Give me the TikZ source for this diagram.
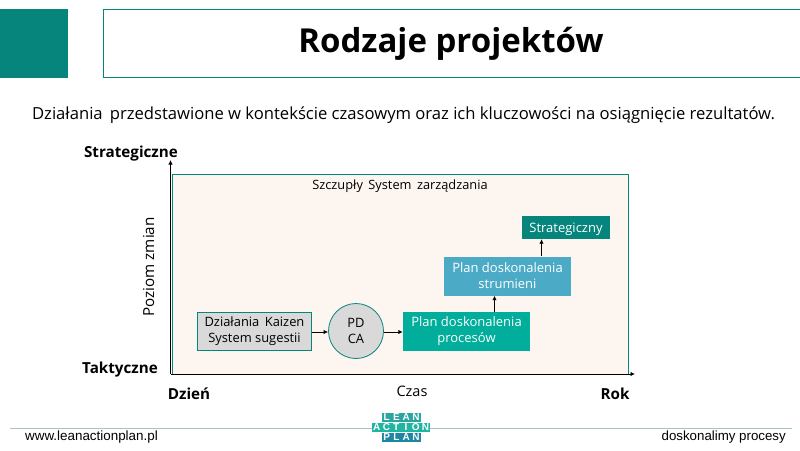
\documentclass[tikz,border=0pt]{standalone}
\usepackage{fontspec}
\setmainfont{Open Sans}
\newfontfamily\footfont{Liberation Sans}
\usetikzlibrary{positioning}
\usetikzlibrary{arrows.meta}
\definecolor{tealdark}{HTML}{06857D}
\definecolor{tealmid}{HTML}{00AE9B}
\definecolor{bluemid}{HTML}{4BABC6}
\definecolor{chartbg}{HTML}{FDF5EF}
\definecolor{boxgray}{HTML}{D9D9D9}
\definecolor{footline}{HTML}{A8C4C0}
\definecolor{logotop}{HTML}{2AA5A0}
\definecolor{logomid}{HTML}{1FB5A0}
\definecolor{logolow}{HTML}{1D86A0}
\tikzset{
	stagebox/.style={inner sep=0, align=center, font=\fontsize{13}{16}\selectfont, text=white, execute at begin node=\rule{0pt}{14pt}},
	grayshape/.style={fill=boxgray, draw=tealdark, thick, align=center, inner sep=0, font=\fontsize{12.9}{16}\selectfont, execute at begin node=\rule{0pt}{14pt}},
	axislabel/.style={font=\fontsize{15.2}{18}\selectfont\bfseries, inner sep=0},
	plainlabel/.style={font=\fontsize{12.8}{16}\selectfont, inner sep=0},
	logotile/.style={minimum width=9.75, minimum height=9, inner sep=0, text=white, font=\footfont\fontsize{10}{10}\selectfont\bfseries},
	flow/.style={-{Latex[length=4.5,width=4.5]}, line width=0.9}
}
\begin{document}
\begin{tikzpicture}[x=1pt, y=-1pt]
	\useasboundingbox (0,0) rectangle (800,450);
	% header
	\fill[tealdark] (0,9) rectangle (68,78);
	\node[draw=tealdark, thick, minimum width=720, minimum height=68, anchor=north west, inner sep=0] (titlebox) at (102.5,9) {};
	\node[font=\fontsize{33}{38}\selectfont\bfseries, inner sep=0] (title) at (451,44) {Rodzaje projektów};
	\node[font=\fontsize{16.63}{20}\selectfont, inner sep=0, text=black] (intro) at (403.5,115.5) {Działania\, przedstawione w kontekście czasowym oraz ich kluczowości na osiągnięcie rezultatów.};
	% chart
	\node[fill=chartbg, draw=tealdark, thick, minimum width=456, minimum height=200, anchor=north west, inner sep=0] (chart) at (172,173.5) {};
	\node[plainlabel] (chartname) at (400,186) {Szczupły\, System\, zarządzania};
	\coordinate (origin) at (170.5,374);
	\coordinate (topend) at (170.5,160);
	\coordinate (rightend) at (635,374);
	\draw[flow] (origin) -- (topend);
	\draw[flow] (origin) -- (rightend);
	\node[axislabel] (strategic) at (131,154) {Strategiczne};
	\node[axislabel] (tactical) at (120,370) {Taktyczne};
	\node[axislabel] (day) at (189,394) {Dzień};
	\node[axislabel] (year) at (615,394) {Rok};
	\node[plainlabel, font=\fontsize{14.5}{16}\selectfont] (time) at (412,391.5) {Czas};
	\node[plainlabel, rotate=90, font=\fontsize{15.2}{18}\selectfont] (level) at (148.5,267) {Poziom zmian};
	% flow
	\node[grayshape, minimum width=114, minimum height=38] (kaizen) at (254.5,331.5) {Działania\, Kaizen\\System sugestii};
	\node[grayshape, circle, minimum size=55] (pdca) at (356,331) {PD\\CA};
	\node[stagebox, fill=tealmid, minimum width=127, minimum height=39] (process) at (466.5,331.5) {Plan doskonalenia\\procesów};
	\node[stagebox, fill=bluemid, minimum width=127, minimum height=39] (stream) at (507.5,276) {Plan doskonalenia\\strumieni};
	\node[stagebox, fill=tealdark, minimum width=88, minimum height=23] (strategy) at (566,227.5) {Strategiczny};
	\coordinate (flowline) at (0,332);
	\coordinate (upone) at (494.5,0);
	\coordinate (uptwo) at (541.5,0);
	\draw[flow] (kaizen.east |- flowline) -- (pdca.west |- flowline);
	\draw[flow] (pdca.east |- flowline) -- (process.west |- flowline);
	\draw[flow] (upone |- process.north) -- (upone |- stream.south);
	\draw[flow] (uptwo |- stream.north) -- (uptwo |- strategy.south);
	% footer
	\node[inner sep=0, anchor=west, font=\footfont\fontsize{13.4}{15}\selectfont] (site) at (25,437.5) {www.leanactionplan.pl};
	\node[inner sep=0, anchor=east, font=\footfont\fontsize{13.3}{15}\selectfont] (motto) at (786,437.5) {doskonalimy procesy};
	\draw[footline, line width=1] (10,428) -- (792,428);
	\foreach \ch [count=\i] in {L,E,A,N}
		\node[logotile, fill=logotop] (lean\i) at ({376.9+\i*9.75},417) {\ch};
	\foreach \ch [count=\i] in {A,C,T,I,O,N}
		\node[logotile, fill=logomid] (action\i) at ({366.9+\i*9.75},427.5) {\ch};
	\foreach \ch [count=\i] in {P,L,A,N}
		\node[logotile, fill=logolow] (plan\i) at ({376.9+\i*9.75},437.5) {\ch};
\end{tikzpicture}
\end{document}
